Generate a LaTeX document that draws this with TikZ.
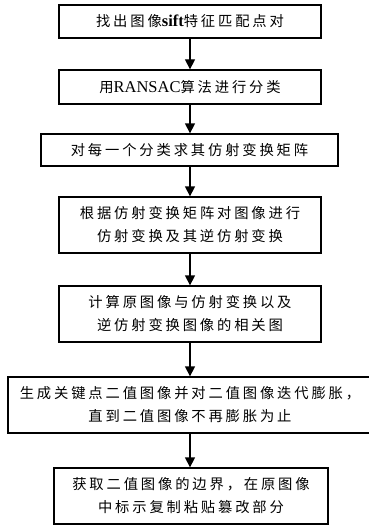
\documentclass[tikz,border=0pt]{standalone}
\usepackage{fontspec}
\usetikzlibrary{arrows.meta}
\newfontfamily\cjk[LetterSpace=20]{Noto Sans CJK SC}
\newfontfamily\lat{Liberation Serif}
\newcommand{\lt}[1]{{\lat\fontsize{16.5}{23}\selectfont #1}}
\begin{document}
\begin{tikzpicture}[x=1pt,y=-1pt,
  box/.style={draw,line width=1.3pt,inner sep=0pt,align=center,
    font=\cjk\fontsize{14.3}{23}\selectfont},
  arr/.style={line width=1.3pt,-{Triangle[length=10pt,width=10pt]}}]
\useasboundingbox (0,0) rectangle (369,527);
\node[box,minimum width=262pt,minimum height=33pt] (b1) at (190,21.5) {找出图像{\lat\bfseries\fontsize{16.5}{23}\selectfont sift}特征匹配点对};
\node[box,minimum width=262pt,minimum height=34pt] (b2) at (190,87) {用\lt{RANSAC}算法进行分类};
\node[box,minimum width=297pt,minimum height=32pt] (b3) at (189.5,150) {对每一个分类求其仿射变换矩阵};
\node[box,minimum width=262pt,minimum height=56pt] (b4) at (190,225) {根据仿射变换矩阵对图像进行\\仿射变换及其逆仿射变换};
\node[box,minimum width=262pt,minimum height=56pt] (b5) at (190,314) {计算原图像与仿射变换以及\\逆仿射变换图像的相关图};
\node[box,minimum width=364pt,minimum height=56pt] (b6) at (190,405) {生成关键点二值图像并对二值图像迭代膨胀，\\直到二值图像不再膨胀为止};
\node[box,minimum width=274pt,minimum height=56pt] (b7) at (191,496) {获取二值图像的边界，在原图像\\中标示复制粘贴篡改部分};
\draw[arr] (b1.south) -- (b2.north);
\draw[arr] (b2.south) -- (b2.south |- b3.north);
\draw[arr] (b2.south |- b3.south) -- (b4.north);
\draw[arr] (b4.south) -- (b5.north);
\draw[arr] (b5.south) -- (b6.north);
\draw[arr] (b6.south) -- (b6.south |- b7.north);
\end{tikzpicture}
\end{document}
